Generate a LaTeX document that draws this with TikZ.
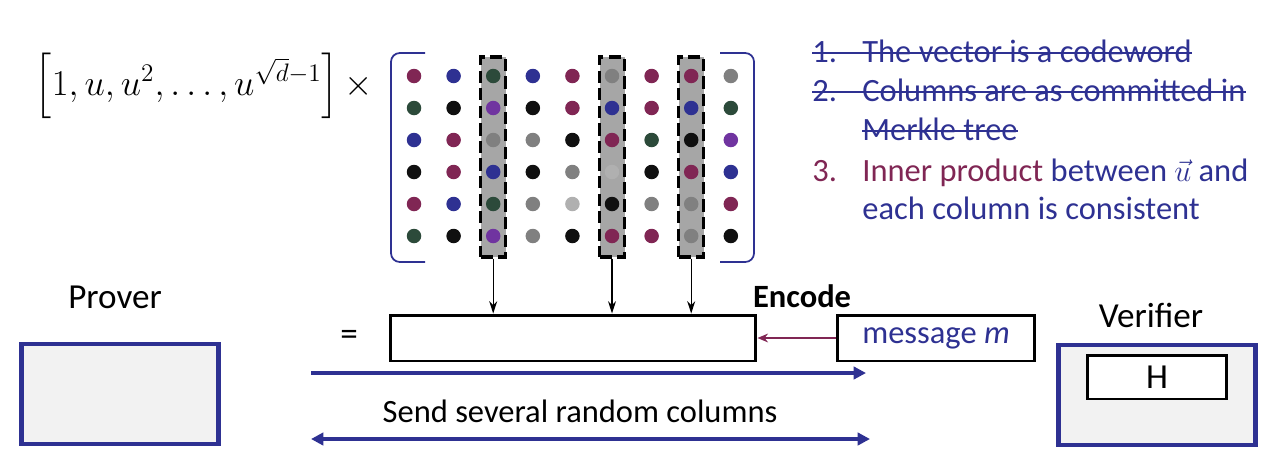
\documentclass[tikz,border=0pt]{standalone}
\usepackage{amsmath}
\usepackage[no-math]{fontspec}
\setmainfont{Carlito}
\usetikzlibrary{arrows.meta,shadows}

\definecolor{blu}{RGB}{46,49,146}
\definecolor{mrn}{RGB}{128,38,84}
\definecolor{grn}{RGB}{44,74,58}
\definecolor{prp}{RGB}{112,52,160}
\definecolor{gry}{RGB}{128,128,128}
\definecolor{lgy}{RGB}{176,176,176}
\definecolor{blk}{RGB}{16,16,16}
\definecolor{selgray}{RGB}{166,166,166}
\definecolor{boxgray}{RGB}{242,242,242}

\begin{document}
\begin{tikzpicture}[x=0.02cm, y=-0.02cm,
    every node/.style={inner sep=0pt},
    txt/.style={font=\fontsize{18.5}{22}\selectfont},
    big/.style={font=\fontsize{20}{24}\selectfont},
    dot/.style={circle, minimum size=0.29cm},
    colsel/.style={draw=black, fill=selgray, line width=2pt, dash pattern=on 7pt off 3pt,
        minimum width=0.5cm, minimum height=4cm},
    party/.style={draw=blu, fill=boxgray, line width=2.6pt, minimum width=3.94cm, minimum height=2cm,
        drop shadow={opacity=0.25, shadow xshift=0.6pt, shadow yshift=-1pt}},
    plain/.style={draw=black, fill=white, line width=1.7pt},
    colarrow/.style={-{Stealth[length=7pt,width=4.5pt]}, line width=0.8pt},
    sendarrow/.style={draw=blu, line width=1.8pt},
    strike/.style={draw=blu, line width=1.1pt}]
    \useasboundingbox (0,0) rectangle (1280,457);

    % vector times matrix
    \node[font=\fontsize{20.8}{24}\selectfont] (vec) at (204,86)
        {$\left[1, u, u^{2}, \ldots, u^{\sqrt{d}-1}\right] \times$};
    \draw [blu, line width=1pt, rounded corners=5pt] (425,53) -- (391,53) -- (391,262) -- (425,262);
    \draw [blu, line width=1pt, rounded corners=5pt] (720,53) -- (754,53) -- (754,262) -- (720,262);
    \foreach \k in {3,6,8}
        \node[colsel] (sel\k) at ({414+(\k-1)*39.6},157) {};
    \foreach \rowcols [count=\r] in {{mrn,blu,grn,blu,mrn,gry,mrn,mrn,gry},
            {grn,blk,prp,blk,mrn,blu,mrn,blu,grn},
            {blu,mrn,gry,gry,blk,mrn,grn,blk,prp},
            {blk,mrn,blu,blk,gry,lgy,blk,mrn,blu},
            {mrn,blu,grn,gry,lgy,blk,gry,gry,mrn},
            {grn,blk,prp,gry,blk,mrn,mrn,gry,blk}}
        \foreach \c [count=\k] in \rowcols
            \node[dot, fill=\c] (d\r\k) at ({414+(\k-1)*39.6},{76+(\r-1)*32}) {};

    % encoding
    \node[big] (eq) at (349,338) {=};
    \node[plain, minimum width=7.32cm, minimum height=0.92cm] (code) at (573,338) {};
    \node[plain, txt, text=blu, minimum width=3.94cm, minimum height=0.92cm] (msg) at (936,338) {message \textit{m}};
    \node[font=\fontsize{18.5}{22}\selectfont\bfseries] (enc) at (802,296) {Encode};
    \draw [-{Stealth[length=6pt,width=5pt]}, mrn, line width=1.1pt] (msg) -- (code);
    \foreach \k in {3,6,8}
        \draw [colarrow] (sel\k.south) -- (sel\k.south |- code.north);

    % prover and verifier
    \node[party] (prover) at (120,394) {};
    \node[big, anchor=base] (plbl) at (115,308) {Prover};
    \node[party] (verifier) at (1157,395) {};
    \node[big, anchor=base] (vlbl) at (1151,327) {Verifier};
    \node[plain, big, minimum width=2.78cm, minimum height=0.88cm] (hash) at (1157,377) {H};

    % messages
    \coordinate (a1) at (311,373);
    \coordinate (b1) at (866,373);
    \draw [sendarrow, -{Triangle[length=7pt,width=7pt]}] (a1) -- (b1);
    \node[txt, anchor=base] (sendlbl) at (580,422) {Send several random columns};
    \coordinate (a2) at (311,439);
    \coordinate (b2) at (870,439);
    \draw [sendarrow, {Triangle[length=7pt,width=7pt]}-{Triangle[length=7pt,width=7pt]}] (a2) -- (b2);

    % checks
    \node[txt, text=blu, anchor=base west] (it1) at (812,62) {\makebox[1cm][l]{1.}The vector is a codeword};
    \node[txt, text=blu, anchor=base west] (it2) at (812,101) {\makebox[1cm][l]{2.}Columns are as committed in};
    \node[txt, text=blu, anchor=base west] (it2b) at (862,140) {Merkle tree};
    \node[txt, text=blu, anchor=base west] (it3) at (812,181)
        {\textcolor{mrn}{\makebox[1cm][l]{3.}Inner product} between $\vec{u}$ and};
    \node[txt, text=blu, anchor=base west] (it3b) at (862,219) {each column is consistent};
    \foreach \n in {it1,it2,it2b}
        \draw [strike] ([yshift=5pt]\n.base west) -- ([yshift=5pt]\n.base east);
\end{tikzpicture}
\end{document}
